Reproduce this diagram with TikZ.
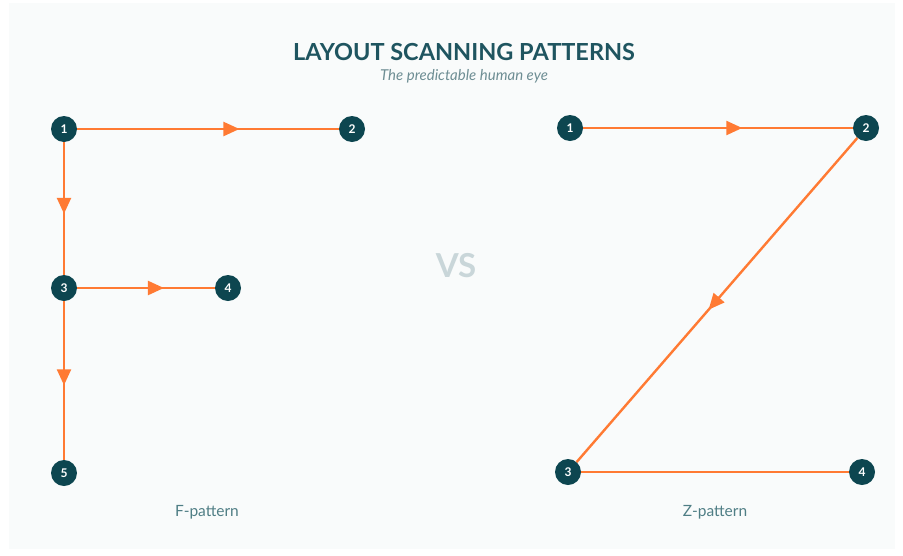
\documentclass[tikz,border=0pt]{standalone}
\usepackage{fontspec}
\setmainfont{Lato}
\usepackage{tikz}
\usetikzlibrary{arrows.meta,positioning,decorations.markings}

\definecolor{tealdark}{HTML}{0D4650}
\definecolor{titleteal}{HTML}{1F5560}
\definecolor{subgray}{HTML}{6E8E94}
\definecolor{capteal}{HTML}{4F7E85}
\definecolor{vsgray}{HTML}{C9D6D9}
\definecolor{pathorange}{HTML}{FF7A33}
\definecolor{panel}{HTML}{F9FBFB}

\begin{document}
\begin{tikzpicture}[
    x=1pt, y=-1pt,
    dot/.style={circle, fill=tealdark, text=white, inner sep=0pt, minimum size=26pt,
                font=\bfseries\fontsize{12}{14}\selectfont},
    line/.style={draw=pathorange, line width=2.4pt},
    midarr/.style={line, postaction={decorate},
                   decoration={markings, mark=at position #1 with
                   {\arrow{Triangle[length=16pt,width=14pt,fill=pathorange]}}}},
    caption/.style={text=capteal, font=\fontsize{15.5}{18}\selectfont},
]
% background and panel
\fill[white] (0,0) rectangle (903,555);
\fill[panel] (9,3) rectangle (895,549);
\useasboundingbox (0,0) rectangle (903,555);

% heading
\node[text=titleteal, font=\bfseries\fontsize{23.5}{27}\selectfont] (title) at (464,52) {LAYOUT SCANNING PATTERNS};
\node[text=subgray, font=\itshape\fontsize{15}{18}\selectfont] (subtitle) at (464,76) {The predictable human eye};
\node[text=vsgray, font=\bfseries\fontsize{33}{36}\selectfont] (vs) at (456,266) {VS};

% F-pattern
\node[dot] (f1) at (64,129) {1};
\node[dot] (f2) at (352,129) {2};
\node[dot] (f3) at (64,288) {3};
\node[dot] (f4) at (228,288) {4};
\node[dot] (f5) at (64,473) {5};
\node[caption] (fcap) at (207,512) {F-pattern};

\draw[midarr=0.62] (f1) -- (f2);
\draw[midarr=0.54] (f1) -- (f3);
\draw[midarr=0.63] (f3) -- (f4);
\draw[midarr=0.53] (f3) -- (f5);

% Z-pattern
\node[dot] (z1) at (570,128) {1};
\node[dot] (z2) at (866,128) {2};
\node[dot] (z3) at (568,472) {3};
\node[dot] (z4) at (862,472) {4};
\node[caption] (zcap) at (715,512) {Z-pattern};

\draw[midarr=0.59] (z1) -- (z2);
\draw[midarr=0.53] (z2) -- (z3);
\draw[line] (z3) -- (z4);
\end{tikzpicture}
\end{document}
